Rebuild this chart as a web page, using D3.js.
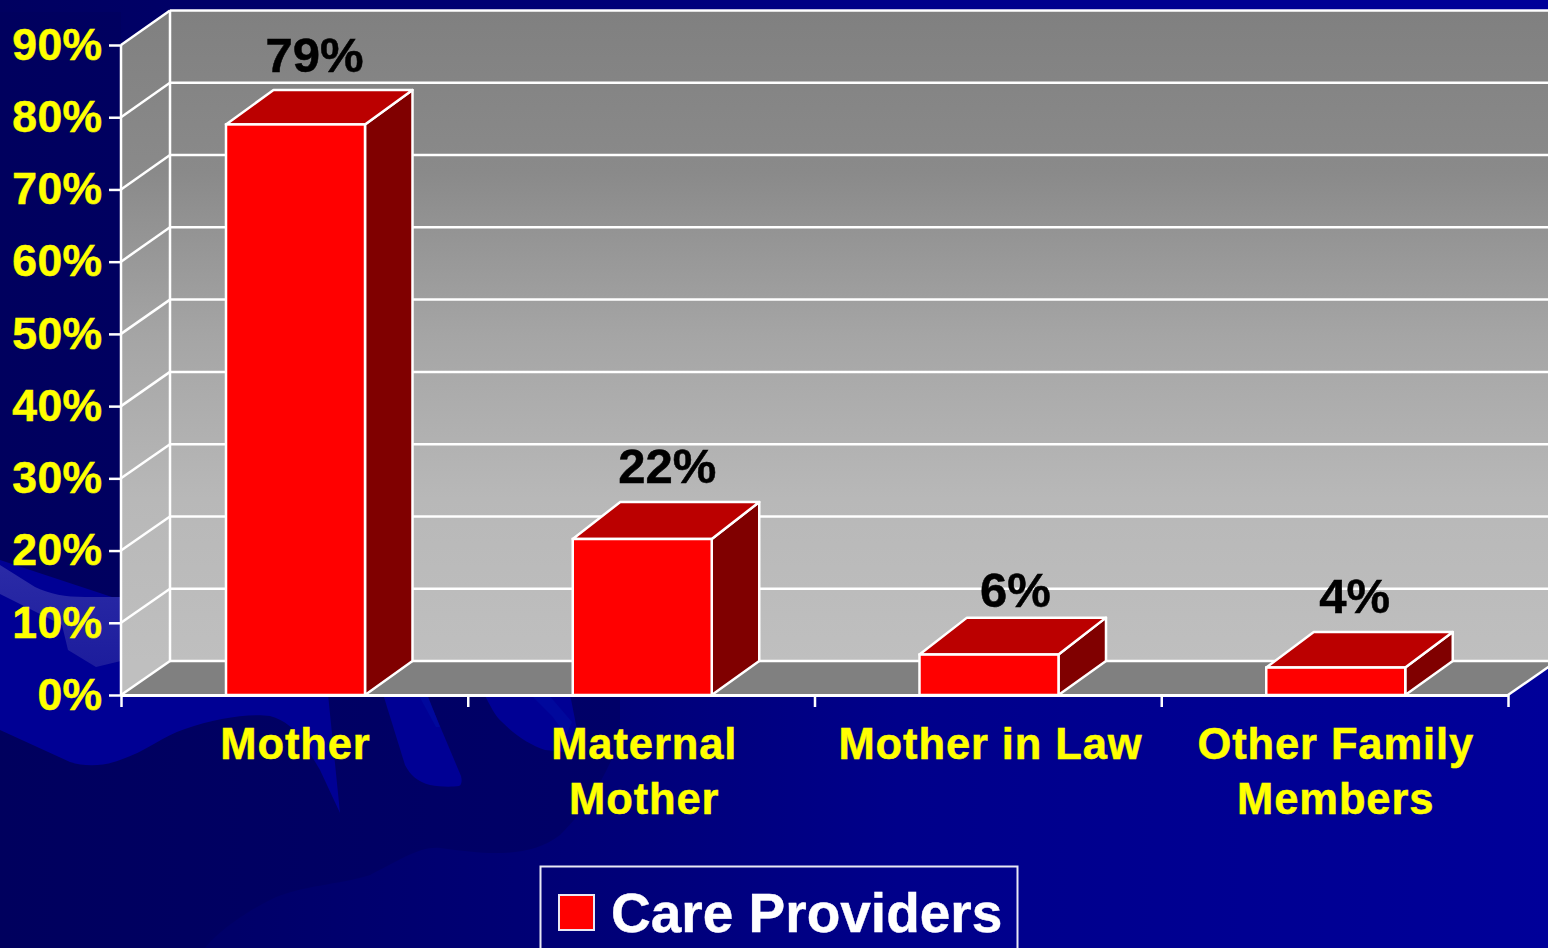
<!DOCTYPE html>
<html><head><meta charset="utf-8">
<script src="https://cdn.jsdelivr.net/npm/d3@7/dist/d3.min.js"></script>
<style>
html,body{margin:0;padding:0;background:#000066;overflow:hidden}
svg{display:block}
text{font-family:"Liberation Sans",Arial,sans-serif;font-weight:bold}
</style></head><body>
<svg id="c" width="1548" height="948"></svg>
<script>
// ---- data ----
const categories = [["Mother"],["Maternal","Mother"],["Mother in Law"],["Other Family","Members"]];
const values = [79,22,6,4];
const frontFaceValues = [79,21.6,5.6,3.8];
const valueLabels = ["79%","22%","6%","4%"];
const yTicks = [0,10,20,30,40,50,60,70,80,90];
const seriesName = "Care Providers";

// ---- layout ----
const W=1548,H=948;
const X0=121,X1=1508,YB=695,YT=45,BACK_B=661,BACK_T=10.5,DX=49,BAR_DX=47.5;
const labelNudge=[[19,-18],[25,-18.5],[26.5,-11],[19,-19]];
const LW=2.5;

const svg=d3.select("#c");
const defs=svg.append("defs");
function grad(id,stops,attrs){
  const g=defs.append("linearGradient").attr("id",id).attr("gradientUnits","userSpaceOnUse");
  Object.entries(attrs).forEach(([k,v])=>g.attr(k,v));
  stops.forEach(([o,c])=>g.append("stop").attr("offset",o).attr("stop-color",c));
}
grad("bg",[[0,"#000060"],[.2,"#00006c"],[.4,"#000078"],[.58,"#00008a"],[1,"#000099"]],{x1:0,y1:0,x2:W,y2:0});
grad("shade",[[0,"#00005e"],[1,"#000068"]],{x1:0,y1:0,x2:620,y2:0});
grad("wall",[[0,"#808080"],[.25,"#8a8a8a"],[.5,"#a5a5a5"],[.75,"#b8b8b8"],[1,"#bfbfbf"]],{x1:0,y1:BACK_T,x2:0,y2:BACK_B});
grad("floor",[[0,"#808080"],[1,"#808080"]],{x1:0,y1:BACK_B,x2:0,y2:YB});
grad("band",[[0,"#2a2aa6"],[1,"#1c1c9c"]],{x1:0,y1:570,x2:0,y2:670});

// ---- background decoration ----
const bg=svg.append("g");
bg.append("rect").attr("width",W).attr("height",H).attr("fill","url(#bg)");
const blue="#000094";
bg.append("path").attr("fill","url(#shade)").attr("d","M620,690 L620,740 C600,790 580,815 560,835 C530,858 490,855 440,848 C420,846 400,860 370,875 C340,885 300,885 270,900 C240,915 215,935 205,948 L0,948 L0,12 L121,12 L121,690 Z");
bg.append("path").attr("fill",blue).attr("d","M0,560 L0,730 L70,762 C85,767 105,766 120,760 C145,752 165,735 185,729 C215,718 250,713 270,716 C285,720 295,730 301,738 L320,770 L340,813 L328,694 L121,600 Z");
bg.append("path").attr("fill","url(#band)").attr("d","M0,565 L35,587 C50,594 65,597 85,597 L125,597 L125,660 L96,667 L68,650 L62,625 L0,594 Z");
bg.append("path").attr("fill",blue).attr("d","M383,694 L405,765 C410,775 418,782 430,785 C440,787 452,787 459,786 C462,785 462,780 461,776 L434,712 L425,694 Z");
bg.append("path").attr("fill","#00089c").attr("d","M418,694 L436,727 L440,727 L427,694 Z");
bg.append("path").attr("fill",blue).attr("d","M484,694 C490,705 495,716 502,722 C515,735 530,745 545,750 L565,752 L578,735 L570,694 Z");
bg.append("path").attr("fill","#00089c").attr("d","M530,694 L552,716 L566,735 L572,722 L548,694 Z");

// ---- scales ----
const yFront=d3.scaleLinear().domain([0,90]).range([YB,YT]);
const yBack=d3.scaleLinear().domain([0,90]).range([BACK_B,BACK_T]);
const xEdges=d3.scaleLinear().domain([0,categories.length]).range([X0,X1]);
const barLeft=i=>xEdges(i)+105, barW=139;

const plot=svg.append("g");
plot.append("rect").attr("x",X0+DX).attr("y",yBack(90)).attr("width",W-X0-DX).attr("height",yBack(0)-yBack(90)).attr("fill","url(#wall)");
plot.append("path").attr("fill","url(#wall)")
  .attr("d",`M${X0},${yFront(90)}L${X0+DX},${yBack(90)}L${X0+DX},${yBack(0)}L${X0},${yFront(0)}Z`);
plot.append("path").attr("fill","url(#floor)")
  .attr("d",`M${X0},${YB}L${X0+DX},${BACK_B}L${X1+DX},${BACK_B}L${X1},${YB}Z`);
plot.selectAll("line.back").data(yTicks).join("line").attr("class","back")
  .attr("x1",X0+DX).attr("x2",W+10).attr("y1",d=>yBack(d)).attr("y2",d=>yBack(d))
  .attr("stroke","#fff").attr("stroke-width",LW);
plot.selectAll("line.side").data(yTicks).join("line").attr("class","side")
  .attr("x1",X0).attr("x2",X0+DX).attr("y1",d=>yFront(d)).attr("y2",d=>yBack(d))
  .attr("stroke","#fff").attr("stroke-width",LW);
plot.append("line").attr("x1",X0).attr("x2",X0).attr("y1",yFront(90)).attr("y2",YB).attr("stroke","#fff").attr("stroke-width",LW);
plot.append("line").attr("x1",X0+DX).attr("x2",X0+DX).attr("y1",yBack(90)).attr("y2",yBack(0)).attr("stroke","#fff").attr("stroke-width",LW);
plot.append("line").attr("x1",X1).attr("x2",X1+DX).attr("y1",YB).attr("y2",BACK_B).attr("stroke","#fff").attr("stroke-width",LW);

// axes
const yAxis=d3.axisLeft(yFront).tickValues(yTicks).tickFormat(d=>d+"%").tickSize(12).tickPadding(6.5);
const ga=svg.append("g").attr("transform",`translate(${X0},0)`).call(yAxis);
ga.select(".domain").remove();
ga.selectAll("line").attr("stroke","#fff").attr("stroke-width",LW);
ga.selectAll("text").attr("fill","#ffff00").attr("stroke","#ffff00").attr("stroke-width",.5).attr("font-size",44.5).style("letter-spacing","0.4px").style("font-family",'"Liberation Sans",Arial,sans-serif').style("font-weight","bold");

const xAxis=d3.axisBottom(xEdges).ticks(categories.length).tickFormat("").tickSize(12).tickSizeOuter(0);
const gx=svg.append("g").attr("transform",`translate(0,${YB})`).call(xAxis);
gx.select(".domain").attr("stroke","#fff").attr("stroke-width",3);
gx.selectAll("line").attr("stroke","#fff").attr("stroke-width",LW);

// bars
const bars=svg.append("g").selectAll("g").data(values).join("g");
bars.append("path").attr("fill","#800000").attr("stroke","#fff").attr("stroke-width",LW).attr("stroke-linejoin","round")
  .attr("d",(d,i)=>{const r=barLeft(i)+barW;return `M${r},${yFront(0)}L${r+BAR_DX},${yBack(0)}L${r+BAR_DX},${yBack(d)}L${r},${yFront(frontFaceValues[i])}Z`;});
bars.append("path").attr("fill","#bb0000").attr("stroke","#fff").attr("stroke-width",LW).attr("stroke-linejoin","round")
  .attr("d",(d,i)=>{const l=barLeft(i),r=l+barW,yf=yFront(frontFaceValues[i]),yb=yBack(d);return `M${l},${yf}L${l+BAR_DX},${yb}L${r+BAR_DX},${yb}L${r},${yf}Z`;});
bars.append("rect").attr("fill","#ff0000").attr("stroke","#fff").attr("stroke-width",LW)
  .attr("x",(d,i)=>barLeft(i)).attr("width",barW)
  .attr("y",(d,i)=>yFront(frontFaceValues[i])).attr("height",(d,i)=>YB-yFront(frontFaceValues[i]));

// value labels
svg.append("g").selectAll("text").data(values).join("text")
  .attr("text-anchor","middle").attr("font-size",49).attr("fill","#000").attr("stroke","#000").attr("stroke-width",.5)
  .attr("x",(d,i)=>barLeft(i)+barW/2+labelNudge[i][0])
  .attr("y",(d,i)=>yBack(d)+labelNudge[i][1])
  .text((d,i)=>valueLabels[i]);

// category labels
const cat=svg.append("g").selectAll("text").data(categories).join("text")
  .attr("text-anchor","middle").attr("font-size",43.5).attr("fill","#ffff00").attr("stroke","#ffff00").attr("stroke-width",.5)
  .style("letter-spacing","0.9px");
cat.selectAll("tspan").data((d,i)=>d.map(t=>({t,i}))).join("tspan")
  .attr("x",d=>barLeft(d.i)+barW/2+(d.i===1?2:d.i===2?1.5:0))
  .attr("y",(d,j)=>759+j*55)
  .text(d=>d.t);

// legend
const lg=svg.append("g");
lg.append("rect").attr("x",540.5).attr("y",866.5).attr("width",477).attr("height",120).attr("fill","none").attr("stroke","#e8e8f4").attr("stroke-width",2);
lg.append("rect").attr("x",559).attr("y",895).attr("width",35).attr("height",35).attr("fill","#ff0000").attr("stroke","#e8e8f4").attr("stroke-width",2);
lg.append("text").attr("x",611).attr("y",932).attr("font-size",55).attr("fill","#fff").attr("stroke","#fff").attr("stroke-width",.4).text(seriesName);
</script>
</body></html>
